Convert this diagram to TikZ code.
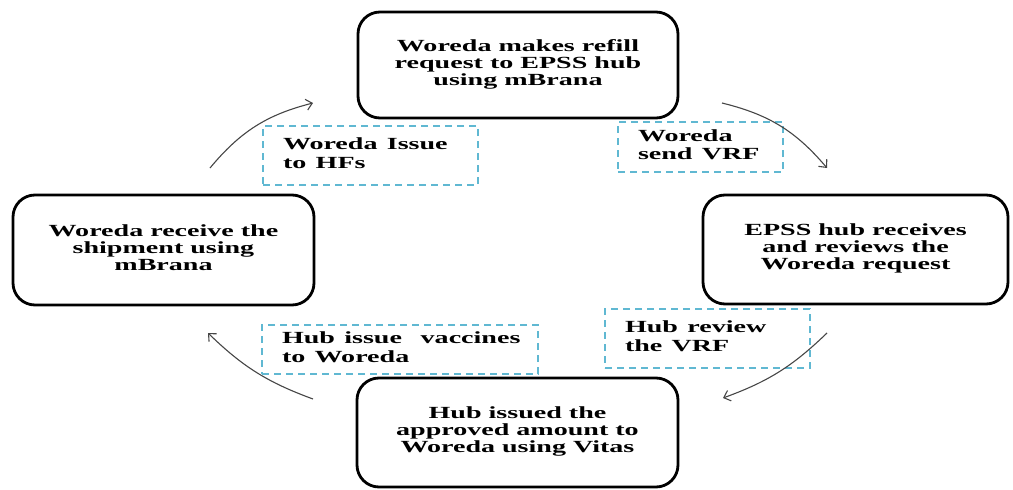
\documentclass[tikz,border=0pt]{standalone}
\usepackage{fontspec}
\setmainfont{Liberation Serif}
\usepackage{graphicx}
\usetikzlibrary{arrows.meta}
\definecolor{dashblue}{RGB}{96,184,210}
\definecolor{arrgray}{RGB}{70,70,70}
\newcommand\sxc[1]{\scalebox{1.65}[1]{\begin{tabular}{@{}c@{}}#1\end{tabular}}}
\newcommand\sxl[1]{\scalebox{1.65}[1]{\begin{tabular}{@{}l@{}}#1\end{tabular}}}
\begin{document}
\begin{tikzpicture}[x=1pt,y=-1pt,
  mainbox/.style={draw=black, line width=2.8pt, rounded corners=22pt, inner sep=0pt, align=center,
    font=\fontsize{17}{17}\selectfont\bfseries},
  lblbox/.style={draw=dashblue, line width=1.8pt, dash pattern=on 7pt off 5pt, inner xsep=20pt, inner ysep=0pt, align=left,
    font=\fontsize{17}{18.5}\selectfont\bfseries},
  arr/.style={draw=arrgray, line width=1.1pt, -{Straight Barb[length=6pt,width=11pt]}}]
\useasboundingbox (0,0) rectangle (1013,490);
% main boxes
\node[mainbox, minimum width=320pt, minimum height=106pt] (top) at (518,65)
  {\sxc{Woreda makes refill\\request to EPSS hub\\using mBrana}};
\node[mainbox, minimum width=305pt, minimum height=109pt] (right) at (855.5,249.5)
  {\sxc{EPSS hub receives\\and reviews the\\Woreda request}};
\node[mainbox, minimum width=321pt, minimum height=109pt] (bottom) at (517.5,432.5)
  {\sxc{Hub issued the\\approved amount to\\Woreda using Vitas}};
\node[mainbox, minimum width=301pt, minimum height=110pt] (left) at (163.5,250)
  {\sxc{Woreda receive the\\shipment using\\mBrana}};
% label boxes
\node[lblbox, text width=175pt, minimum height=59pt] (issue) at (370.5,155.5)
  {\sxl{Woreda Issue\\to HFs}};
\node[lblbox, text width=125pt, minimum height=50pt] (send) at (700.5,147)
  {\sxl{Woreda\\send VRF}};
\node[lblbox, text width=165pt, minimum height=59pt] (review) at (707.5,338.5)
  {\sxl{Hub review\\the VRF}};
\node[lblbox, text width=236pt, minimum height=49pt] (vacc) at (400,349.5)
  {\sxl{Hub issue\ \ vaccines\\to Woreda}};
% arrows
\coordinate (a1s) at (210,168);
\coordinate (a1e) at (313,103);
\coordinate (a2s) at (722,103);
\coordinate (a2e) at (827,168);
\coordinate (a3s) at (827,333);
\coordinate (a3e) at (723,398);
\coordinate (a4s) at (313,399);
\coordinate (a4e) at (208,333);
\draw[arr] (a1s) to[bend left=18] (a1e);
\draw[arr] (a2s) to[bend left=18] (a2e);
\draw[arr] (a3s) to[bend left=12] (a3e);
\draw[arr] (a4s) to[bend left=12] (a4e);
\end{tikzpicture}
\end{document}
